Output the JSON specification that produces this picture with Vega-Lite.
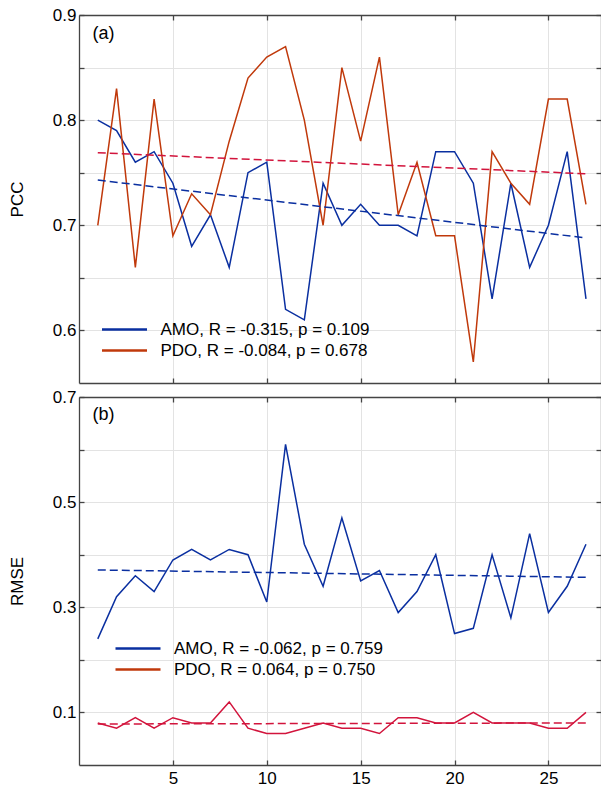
{
 "$schema": "https://vega.github.io/schema/vega-lite/v6.json",
 "padding": {"left": 8, "top": 6, "right": 0, "bottom": 0},
 "autosize": {"type": "pad"},
 "datasets": {
  "main": [
   {"x":1,"series":"AMO","pcc":0.80,"rmse":0.24},{"x":2,"series":"AMO","pcc":0.79,"rmse":0.32},{"x":3,"series":"AMO","pcc":0.76,"rmse":0.36},
   {"x":4,"series":"AMO","pcc":0.77,"rmse":0.33},{"x":5,"series":"AMO","pcc":0.74,"rmse":0.39},{"x":6,"series":"AMO","pcc":0.68,"rmse":0.41},
   {"x":7,"series":"AMO","pcc":0.71,"rmse":0.39},{"x":8,"series":"AMO","pcc":0.66,"rmse":0.41},{"x":9,"series":"AMO","pcc":0.75,"rmse":0.40},
   {"x":10,"series":"AMO","pcc":0.76,"rmse":0.31},{"x":11,"series":"AMO","pcc":0.62,"rmse":0.61},{"x":12,"series":"AMO","pcc":0.61,"rmse":0.42},
   {"x":13,"series":"AMO","pcc":0.74,"rmse":0.34},{"x":14,"series":"AMO","pcc":0.70,"rmse":0.47},{"x":15,"series":"AMO","pcc":0.72,"rmse":0.35},
   {"x":16,"series":"AMO","pcc":0.70,"rmse":0.37},{"x":17,"series":"AMO","pcc":0.70,"rmse":0.29},{"x":18,"series":"AMO","pcc":0.69,"rmse":0.33},
   {"x":19,"series":"AMO","pcc":0.77,"rmse":0.40},{"x":20,"series":"AMO","pcc":0.77,"rmse":0.25},{"x":21,"series":"AMO","pcc":0.74,"rmse":0.26},
   {"x":22,"series":"AMO","pcc":0.63,"rmse":0.40},{"x":23,"series":"AMO","pcc":0.74,"rmse":0.28},{"x":24,"series":"AMO","pcc":0.66,"rmse":0.44},
   {"x":25,"series":"AMO","pcc":0.70,"rmse":0.29},{"x":26,"series":"AMO","pcc":0.77,"rmse":0.34},{"x":27,"series":"AMO","pcc":0.63,"rmse":0.42},
   {"x":1,"series":"PDO","pcc":0.70,"rmse":0.08},{"x":2,"series":"PDO","pcc":0.83,"rmse":0.07},{"x":3,"series":"PDO","pcc":0.66,"rmse":0.09},
   {"x":4,"series":"PDO","pcc":0.82,"rmse":0.07},{"x":5,"series":"PDO","pcc":0.69,"rmse":0.09},{"x":6,"series":"PDO","pcc":0.73,"rmse":0.08},
   {"x":7,"series":"PDO","pcc":0.71,"rmse":0.08},{"x":8,"series":"PDO","pcc":0.78,"rmse":0.12},{"x":9,"series":"PDO","pcc":0.84,"rmse":0.07},
   {"x":10,"series":"PDO","pcc":0.86,"rmse":0.06},{"x":11,"series":"PDO","pcc":0.87,"rmse":0.06},{"x":12,"series":"PDO","pcc":0.80,"rmse":0.07},
   {"x":13,"series":"PDO","pcc":0.70,"rmse":0.08},{"x":14,"series":"PDO","pcc":0.85,"rmse":0.07},{"x":15,"series":"PDO","pcc":0.78,"rmse":0.07},
   {"x":16,"series":"PDO","pcc":0.86,"rmse":0.06},{"x":17,"series":"PDO","pcc":0.71,"rmse":0.09},{"x":18,"series":"PDO","pcc":0.76,"rmse":0.09},
   {"x":19,"series":"PDO","pcc":0.69,"rmse":0.08},{"x":20,"series":"PDO","pcc":0.69,"rmse":0.08},{"x":21,"series":"PDO","pcc":0.57,"rmse":0.10},
   {"x":22,"series":"PDO","pcc":0.77,"rmse":0.08},{"x":23,"series":"PDO","pcc":0.74,"rmse":0.08},{"x":24,"series":"PDO","pcc":0.72,"rmse":0.08},
   {"x":25,"series":"PDO","pcc":0.82,"rmse":0.07},{"x":26,"series":"PDO","pcc":0.82,"rmse":0.07},{"x":27,"series":"PDO","pcc":0.72,"rmse":0.10}
  ],
  "trend": [
   {"x":1,"series":"AMO","pcc":0.743,"rmse":0.371},{"x":27,"series":"AMO","pcc":0.688,"rmse":0.357},
   {"x":1,"series":"PDO","pcc":0.769,"rmse":0.078},{"x":27,"series":"PDO","pcc":0.749,"rmse":0.080}
  ]
 },
 "config": {
  "font": "Liberation Sans",
  "view": {"stroke": null},
  "axis": {
   "domainColor": "#444444", "domainWidth": 1.3, "tickColor": "#444444", "tickWidth": 1.3,
   "gridColor": "#e3e3e3", "gridWidth": 1,
   "labelFontSize": 17, "labelColor": "#000000", "labelPadding": 8,
   "titleFontSize": 17, "titleFontWeight": "normal", "titleColor": "#000000"
  },
  "legend": {
   "symbolType": "M-2.25,0H2.25", "symbolSize": 400, "symbolStrokeWidth": 2.5,
   "labelFontSize": 17, "labelColor": "#000000", "labelOffset": 24.5, "labelLimit": 400, "padding": 0, "rowPadding": 1
  }
 },
 "spacing": 14,
 "bounds": "flush",
 "resolve": {"scale": {"x": "independent", "y": "independent", "color": "independent", "stroke": "independent"}, "legend": {"color": "independent"}},
 "vconcat": [
  {
   "width": 522, "height": 368,
   "layer": [
    {"data": {"name": "main"}, "mark": {"type": "line", "strokeWidth": 1.5},
     "encoding": {
      "x": {"field": "x", "type": "quantitative", "scale": {"domain": [0, 27.8], "nice": false, "zero": false},
        "axis": {"orient": "bottom", "values": [5,10,15,20,25], "labels": false, "grid": true, "tickSize": -5, "title": null}},
      "y": {"field": "pcc", "type": "quantitative", "scale": {"domain": [0.55, 0.9], "nice": false, "zero": false},
        "axis": {"orient": "left", "values": [0.6,0.65,0.7,0.75,0.8,0.85,0.9], "labelExpr": "abs(datum.value*10 - round(datum.value*10)) < 0.01 ? format(datum.value, '.1f') : ''", "grid": true, "tickSize": -5, "title": "PCC", "titlePadding": 26}},
      "color": {"field": "series", "type": "nominal", "scale": {"domain": ["AMO","PDO"], "range": ["#0a2fa0","#c0390b"]},
        "legend": {"orient": "none", "legendX": 34, "legendY": 303, "title": null, "labelExpr": "datum.label == 'AMO' ? 'AMO, R = -0.315, p = 0.109' : 'PDO, R = -0.084, p = 0.678'"}}
     }},
    {"data": {"name": "trend"}, "mark": {"type": "line", "strokeDash": [8,4], "strokeWidth": 1.5},
     "encoding": {
      "x": {"field": "x", "type": "quantitative", "axis": {"orient": "top", "values": [5,10,15,20,25], "labels": false, "grid": false, "tickSize": -5, "title": null}},
      "y": {"field": "pcc", "type": "quantitative", "axis": {"orient": "right", "values": [0.6,0.65,0.7,0.75,0.8,0.85,0.9], "labels": false, "grid": false, "tickSize": -5, "title": null}},
      "stroke": {"field": "series", "type": "nominal", "scale": {"domain": ["AMO","PDO"], "range": ["#0a2fa0","#d2143c"]}, "legend": null}
     }},
    {"data": {"values": [{}]}, "mark": {"type": "text", "fontSize": 18, "align": "left", "baseline": "middle"},
     "encoding": {"x": {"datum": 0.72, "axis": null}, "y": {"datum": 0.882, "axis": null}, "text": {"value": "(a)"}}}
   ]
  },
  {
   "width": 522, "height": 368,
   "layer": [
    {"data": {"name": "main"}, "transform": [{"filter": "datum.series == 'AMO'"}], "mark": {"type": "line", "strokeWidth": 1.5},
     "encoding": {
      "x": {"field": "x", "type": "quantitative", "scale": {"domain": [0, 27.8], "nice": false, "zero": false},
        "axis": {"orient": "bottom", "values": [5,10,15,20,25], "grid": true, "tickSize": -5, "labelPadding": 10, "title": null}},
      "y": {"field": "rmse", "type": "quantitative", "scale": {"domain": [0, 0.7], "nice": false, "zero": false},
        "axis": {"orient": "left", "values": [0.1,0.2,0.3,0.4,0.5,0.6,0.7], "labelExpr": "indexof(['0.1','0.3','0.5','0.7'], format(datum.value, '.1f')) >= 0 ? format(datum.value, '.1f') : ''", "grid": true, "tickSize": -5, "title": "RMSE", "titlePadding": 26}},
      "color": {"field": "series", "type": "nominal", "scale": {"domain": ["AMO","PDO"], "range": ["#0a2fa0","#c0390b"]},
        "legend": {"orient": "none", "legendX": 47.5, "legendY": 240, "title": null, "labelExpr": "datum.label == 'AMO' ? 'AMO, R = -0.062, p = 0.759' : 'PDO, R = 0.064, p = 0.750'"}}
     }},
    {"data": {"name": "main"}, "transform": [{"filter": "datum.series == 'PDO'"}], "mark": {"type": "line", "strokeWidth": 1.5, "color": "#d2143c"},
     "encoding": {
      "x": {"field": "x", "type": "quantitative", "axis": null},
      "y": {"field": "rmse", "type": "quantitative", "axis": null}
     }},
    {"data": {"name": "trend"}, "mark": {"type": "line", "strokeDash": [8,4], "strokeWidth": 1.5},
     "encoding": {
      "x": {"field": "x", "type": "quantitative", "axis": {"orient": "top", "values": [5,10,15,20,25], "labels": false, "grid": false, "tickSize": -5, "title": null}},
      "y": {"field": "rmse", "type": "quantitative", "axis": {"orient": "right", "values": [0.1,0.2,0.3,0.4,0.5,0.6,0.7], "labels": false, "grid": false, "tickSize": -5, "title": null}},
      "stroke": {"field": "series", "type": "nominal", "scale": {"domain": ["AMO","PDO"], "range": ["#0a2fa0","#d2143c"]}, "legend": null}
     }},
    {"data": {"values": [{}]}, "mark": {"type": "text", "fontSize": 18, "align": "left", "baseline": "middle"},
     "encoding": {"x": {"datum": 0.72, "axis": null}, "y": {"datum": 0.666, "axis": null}, "text": {"value": "(b)"}}}
   ]
  }
 ]
}
